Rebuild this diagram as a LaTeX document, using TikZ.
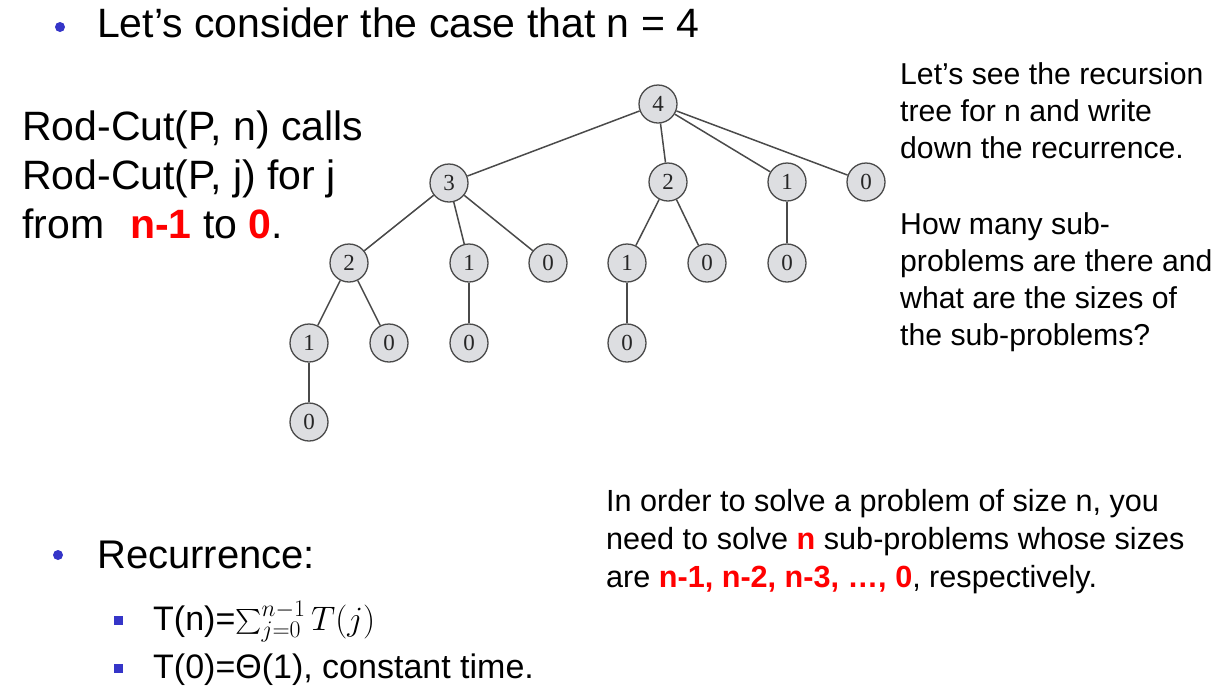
\RequirePackage{fix-cm}
\documentclass[tikz,border=0pt]{standalone}
\usepackage{exscale}
\usepackage{fontspec}
\setmainfont{Liberation Sans}
\newfontfamily\numfont{Liberation Serif}
\usepackage{tikz}
\usetikzlibrary{positioning}
\definecolor{bulletblue}{HTML}{3535C8}
\definecolor{callfill}{HTML}{DDDEE1}
\definecolor{calledge}{HTML}{4A4A4A}
\tikzset{call/.style={draw=calledge,fill=callfill,circle,line width=1.3pt,minimum size=38pt,inner sep=0pt,
    font=\numfont\fontsize{23}{23}\selectfont,text=black!85}}
\tikzset{link/.style={draw=calledge,line width=1.5pt}}
% multi-line texts sit on the baseline of their last line
\tikzset{txt/.style={anchor=base west,inner sep=0pt,align=left}}
\newcommand{\hl}[1]{\textcolor{red}{\textbf{#1}}}

\begin{document}
\begin{tikzpicture}[x=1pt,y=-1pt]
    \useasboundingbox (0,0) rectangle (1227,689);

    % Bullets:
    \fill [bulletblue] (60,27) circle (5);
    \fill [bulletblue] (58,555) circle (5);
    \fill [bulletblue] (113.5,615.5) rectangle (122.5,624.5);
    \fill [bulletblue] (113.5,663.5) rectangle (122.5,672.5);

    % Texts:
    \node [txt,font=\fontsize{41}{48}\selectfont] (title) at (97,37) {Let’s consider the case that n = 4};
    \node [txt,font=\fontsize{41}{49}\selectfont] (calls) at (22,238)
        {Rod-Cut(P, n) calls\\Rod-Cut(P, j) for j\\from\hspace{26pt}\hl{n-1} to \hl{0}.};
    \node [txt,font=\fontsize{30.2}{36.7}\selectfont] (ask) at (900,345)
        {Let’s see the recursion\\tree for n and write\\down the recurrence.\\[40pt]
         How many sub-\\problems are there and\\what are the sizes of\\the sub-problems?};
    \node [txt,font=\fontsize{30.6}{38}\selectfont] (answer) at (606,587)
        {In order to solve a problem of size n, you\\need to solve \hl{n} sub-problems whose sizes\\are \hl{n-1, n-2, n-3, …, 0}, respectively.};
    \node [txt,font=\fontsize{40}{48}\selectfont] (rec) at (97,568) {Recurrence:};
    \node [txt,font=\fontsize{34}{40}\selectfont] (sum) at (153,630) {T(n)=$\sum_{j=0}^{n-1}T(j)$};
    \node [txt,font=\fontsize{34}{40}\selectfont] (base) at (153,678) {T(0)=Θ(1), constant time.};

    % Recursion tree:
    %root
    \node [call] (r4) at (658,104) {4};
    %children of the root
    \node [call] (a3) at (449,183) {3};
    \node [call] (a2) at (668,182) {2};
    \node [call] (a1) at (787,182) {1};
    \node [call] (a0) at (866,182) {0};
    %third row
    \node [call] (b32) at (349,263) {2};
    \node [call] (b31) at (469,263) {1};
    \node [call] (b30) at (548,263) {0};
    \node [call] (b21) at (627,263) {1};
    \node [call] (b20) at (707,263) {0};
    \node [call] (b10) at (787,263) {0};
    %fourth row
    \node [call] (c321) at (309,343) {1};
    \node [call] (c320) at (389,343) {0};
    \node [call] (c310) at (469,343) {0};
    \node [call] (c210) at (627,343) {0};
    %last row
    \node [call] (d3210) at (309,422) {0};

    % Calls:
    \draw [link] (r4) -- (a3);
    \draw [link] (r4) -- (a2);
    \draw [link] (r4) -- (a1);
    \draw [link] (r4) -- (a0);
    \draw [link] (a3) -- (b32);
    \draw [link] (a3) -- (b31);
    \draw [link] (a3) -- (b30);
    \draw [link] (a2) -- (b21);
    \draw [link] (a2) -- (b20);
    \draw [link] (a1) -- (b10);
    \draw [link] (b32) -- (c321);
    \draw [link] (b32) -- (c320);
    \draw [link] (b31) -- (c310);
    \draw [link] (b21) -- (c210);
    \draw [link] (c321) -- (d3210);
\end{tikzpicture}
\end{document}
